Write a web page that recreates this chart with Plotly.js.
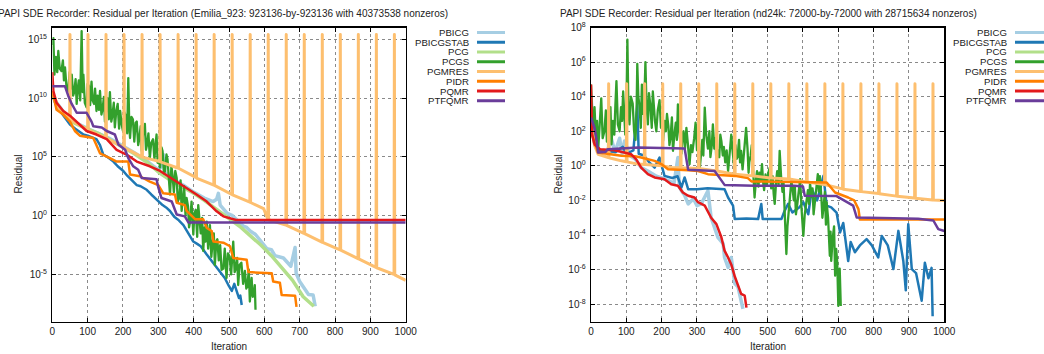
<!DOCTYPE html>
<html><head><meta charset="utf-8">
<script src="https://cdn.plot.ly/plotly-3.0.1.min.js"></script>
<style>html,body{margin:0;padding:0;background:#fff}#chart{width:1044px;height:354px}
.js-line{stroke-linejoin:round !important;}</style>
</head><body><div id="chart"></div>
<script>
// Values are stored as log10(residual); residual = 10^exp.
const methods = ['PBICG','PBICGSTAB','PCG','PCGS','PGMRES','PIDR','PQMR','PTFQMR'];
const colors  = ['#a6cee3','#1f78b4','#b2df8a','#33a02c','#fdbf6f','#ff7f00','#e31a1c','#6a3d9a'];
const widths  = [3.5,2.5,3.5,2.3,3,2.5,2.5,2.5];

const titleLeft  = 'PAPI SDE Recorder: Residual per Iteration (Emilia_923: 923136-by-923136 with 40373538 nonzeros)';
const titleRight = 'PAPI SDE Recorder: Residual per Iteration (nd24k: 72000-by-72000 with 28715634 nonzeros)';
const xTicks = [0,100,200,300,400,500,600,700,800,900,1000];
const yTicksLeftExp  = [-5,0,5,10,15];
const yTicksRightExp = [-8,-6,-4,-2,0,2,4,6,8];

// ---------- Emilia_923 ----------
const emPBICG_it  = [0,10,30,60,100,130,160,190,230,270,300,310,314,318,340,370,400,430,455,465,470,475,495,510,530,541,550,560,575,590,607,620,630,654,665,675,687,690,700,715,725,738,744];
const emPBICG_exp = [10.3,9.7,8.9,8.0,7.4,7.0,6.6,6.1,5.4,4.6,3.9,4.2,5.2,3.7,3.1,2.6,2.0,1.5,1.2,1.4,1.9,0.9,0.2,0.0,-0.6,-0.9,-1.0,-1.3,-1.6,-2.2,-2.8,-2.9,-3.4,-3.6,-4.0,-4.3,-2.7,-4.9,-5.6,-6.2,-6.7,-6.75,-7.7];
const emPBICGSTAB_it  = [0,5,12,22,35,50,65,80,88,100,115,125,135,144,155,165,173,185,193,201,212,225,239,250,260,267,280,290,300,312,322,333,345,358,371,385,399,410,420,437,450,462,475,488,500,508,515,522,528,532,536];
const emPBICGSTAB_exp = [10.2,9.8,9.3,8.9,8.4,7.75,7.4,7.1,6.9,6.8,6.6,6.5,6.0,5.2,5.0,4.8,4.6,4.2,4.0,3.8,3.4,3.0,2.6,2.5,2.3,2.2,1.8,1.5,1.2,0.9,0.7,0.4,-0.1,-0.4,-0.8,-1.5,-2.2,-2.4,-2.6,-3.3,-3.8,-4.2,-4.7,-5.3,-6.0,-6.4,-5.8,-6.4,-7.0,-6.8,-7.6];
const emPCG_it  = [0,10,30,60,100,130,160,190,230,270,305,340,370,400,430,465,495,530,560,590,620,650,680,710,740];
const emPCG_exp = [10.3,9.6,8.8,7.9,7.35,7.0,6.5,6.0,5.3,4.5,3.6,2.9,2.4,1.9,1.3,0.5,-0.1,-0.9,-1.7,-2.5,-3.4,-4.4,-5.5,-6.9,-7.7];
const emPCGS_it  = [0,3,6,10,14,17,21,26,30,33,36,40,45,49,52,55,59,62,66,69,72,75,79,83,86,88,92,97,100,104,107,111,114,118,121,125,128,132,135,139,142,146,149,153,156,160,163,167,170,174,177,181,185,189,192,196,200,204,208,212,215,218,220,224,228,232,236,239,243,246,250,253,257,262,265,268,272,276,280,285,289,292,295,298,300,305,309,312,316,319,323,326,330,333,337,340,344,348,352,355,359,363,366,370,373,377,380,384,387,390,394,399,402,406,410,413,417,420,424,427,431,434,437,441,446,450,453,457,460,464,467,471,475,479,484,488,493,497,502,506,512,516,519,523,526,530,535,540,545,549,552,556,559,562,564,567,570,573,575];
const emPCGS_exp = [14.5,15.1,12.0,13.5,12.2,14.0,12.5,12.3,13.2,11.5,12.6,11.0,10.6,12.2,10.8,12.0,10.2,10.5,11.6,9.5,10.8,11.5,9.8,15.7,10.5,12.0,9.6,9.2,11.2,11.0,9.4,11.4,9.8,9.5,10.8,8.9,10.2,9.0,10.6,8.6,9.0,10.1,8.0,9.6,10.0,8.2,10.5,8.0,8.5,9.6,7.5,8.9,9.5,7.4,8.9,7.8,7.2,8.8,8.5,7.0,11.7,7.5,6.6,8.4,8.2,6.3,7.9,8.0,6.0,6.5,7.6,5.5,7.0,7.8,5.6,6.0,7.0,4.9,6.2,6.5,4.8,6.0,6.9,4.5,5.0,4.1,5.8,5.5,3.6,3.8,5.2,4.8,2.8,1.8,4.2,3.5,2.0,3.8,3.2,1.2,1.5,3.0,0.4,2.0,2.5,0.0,1.5,0.8,-1.0,-0.5,1.2,-1.6,0.2,0.5,-1.8,0.9,-0.8,-1.5,-0.2,-3.0,-1.0,-2.2,-0.5,-2.8,-0.8,-3.5,-2.5,-1.5,-4.2,-2.2,-2.0,-3.8,-2.5,-4.6,-4.5,-2.8,-5.3,-3.2,-3.5,-5.0,-2.2,-4.8,-4.5,-3.6,-5.9,-4.2,-4.0,-5.8,-4.7,-6.2,-6.0,-4.6,-7.3,-5.8,-5.3,-6.9,-6.8,-5.9,-8.0];
const emPGMRES_it  = [0,20,49,50,51,100,101,102,151,152,153,202,203,204,253,254,255,304,305,306,355,356,357,406,407,408,457,458,459,508,509,510,559,560,561,598,610,611,612,661,662,663,712,713,714,763,764,765,814,815,816,865,866,867,916,917,918,967,968,969,1000];
const emPGMRES_exp = [10.5,9.0,8.2,15.4,8.15,7.3,15.4,7.28,6.6,15.4,6.58,5.8,15.4,5.78,5.0,15.4,4.98,4.6,15.4,4.58,4.05,15.4,4.03,3.25,15.4,3.2,2.6,15.4,2.57,1.8,15.4,1.77,1.15,15.4,1.12,0.6,-0.3,15.4,-0.35,-0.8,15.4,-0.82,-1.5,15.4,-1.53,-2.25,15.4,-2.28,-2.9,15.4,-2.93,-3.65,15.4,-3.68,-4.4,15.4,-4.43,-5.0,15.4,-5.03,-5.5];
const emPIDR_it  = [0,12,31,50,64,78,116,135,163,182,215,220,248,276,300,314,347,352,375,380,404,427,437,451,456,484,503,512,550,555,621,625,644,649,687,691];
const emPIDR_exp = [10.6,9.0,8.6,8.0,7.2,6.8,6.6,5.3,4.9,4.6,4.6,3.5,3.35,2.9,2.6,1.9,1.8,1.1,0.9,0.4,-0.3,-0.3,-1.05,-1.3,-2.2,-2.3,-2.6,-3.6,-3.75,-4.8,-4.9,-5.6,-5.7,-6.75,-6.8,-7.75];
const emPQMR_it  = [0,3,12,31,50,78,97,125,154,182,210,239,276,305,328,352,380,408,437,465,484,503,520,1000];
const emPQMR_exp = [12.2,10.6,9.6,8.9,8.5,7.75,7.2,6.9,6.5,5.6,5.2,4.6,4.2,3.8,3.35,2.9,2.4,1.8,1.2,0.37,-0.06,-0.2,-0.37,-0.37];
const emPTFQMR_it  = [0,36,45,55,69,97,111,116,140,154,177,187,206,215,229,243,253,295,300,309,338,352,375,385,1000];
const emPTFQMR_exp = [11.0,11.0,10.2,9.5,8.75,8.75,8.0,7.6,7.5,7.2,6.9,6.05,5.6,4.9,4.2,3.9,3.2,3.1,2.4,1.5,1.2,0.1,-0.06,-0.58,-0.58];

// ---------- nd24k ----------
const ndPBICG_it  = [0,10,25,45,58,68,81,88,95,110,125,133,142,161,185,200,218,235,246,250,256,265,275,290,300,312,322,331,340,350,359,374,378,388,397,407,416,425,430];
const ndPBICG_exp = [4.0,1.3,0.9,0.8,1.54,0.8,1.6,0.7,1.44,0.6,0.4,0.2,-0.1,-0.3,-0.6,-0.7,-0.87,-1.0,0.48,-1.2,-1.44,-1.7,-2.2,-1.9,-2.3,-2.2,-1.8,-1.44,-3.0,-3.6,-4.13,-4.5,-5.3,-5.87,-5.3,-6.8,-7.0,-7.8,-8.27];
const ndPBICGSTAB_it  = [0,10,20,48,70,90,100,120,131,135,150,165,180,194,208,230,245,256,265,275,300,330,360,378,388,402,407,440,473,482,486,539,548,558,570,590,601,615,625,640,658,667,680,695,705,714,728,735,747,761,780,795,813,823,840,856,870,884,891,898,908,920,936,945,955,964,967];
const ndPBICGSTAB_exp = [2.5,1.2,0.9,0.85,0.8,1.1,0.7,0.9,3.56,0.7,0.6,0.2,-0.1,0.48,-0.58,-0.7,-0.6,-1.25,-0.67,-1.35,-1.35,-1.3,-1.35,-1.35,-1.83,-2.3,-3.08,-3.05,-3.08,-2.2,-3.08,-3.08,-2.6,-2.2,-2.7,-2.4,-2.1,-2.8,-1.35,-2.0,-0.58,-2.3,-2.4,-2.7,-3.85,-3.3,-5.5,-4.4,-5.0,-4.6,-4.24,-4.6,-5.3,-4.05,-4.6,-5.97,-3.76,-5.5,-7.2,-3.37,-5.97,-6.2,-7.8,-5.6,-6.5,-5.9,-8.7];
const ndPCG_it  = [];
const ndPCG_exp = [];
const ndPCGS_it  = [0,3,6,10,14,17,20,24,29,33,38,42,45,48,52,55,58,62,66,69,72,76,81,85,88,91,94,97,100,103,106,109,113,118,122,126,129,131,134,137,141,144,147,150,154,157,161,164,168,172,175,178,181,185,189,194,198,201,204,208,212,215,219,222,225,229,232,236,240,243,246,250,253,256,259,262,266,270,274,279,283,287,292,296,300,304,308,312,315,318,322,326,331,335,338,342,345,349,352,355,359,363,366,369,373,376,380,384,388,392,397,401,405,409,412,415,419,422,425,429,433,436,439,443,446,448,452,455,459,463,467,470,474,477,480,484,487,490,494,498,502,506,510,514,517,520,524,527,531,534,538,542,545,549,553,556,560,564,567,570,574,577,580,584,588,592,596,601,605,610,614,617,620,624,627,630,634,638,642,645,648,652,655,659,662,665,667,671,674,676,678,680,684,688,691,694,697,700,702,704,707];
const ndPCGS_exp = [4.7,2.5,1.8,3.4,1.5,2.6,0.87,2.2,3.9,1.6,2.0,3.2,1.4,3.0,2.2,3.4,1.25,2.6,1.8,3.5,4.9,2.4,2.0,3.4,2.6,4.3,2.8,1.8,3.0,7.3,3.2,2.4,4.0,3.6,2.0,1.5,3.2,5.9,4.0,3.5,2.2,4.7,3.0,3.0,6.0,3.6,2.4,4.2,3.5,2.2,4.3,3.0,2.6,2.0,3.2,3.8,2.2,2.8,1.44,2.6,2.0,3.0,2.3,1.2,1.6,2.8,0.87,1.8,2.5,1.5,3.56,2.0,1.0,0.7,1.8,2.0,1.0,2.2,1.3,0.1,1.2,0.8,1.6,2.5,0.9,1.4,-0.1,0.8,1.5,0.6,3.37,1.8,1.0,2.0,0.5,1.2,2.4,1.0,1.6,0.2,0.9,0.5,1.8,1.44,0.6,1.1,0.2,0.9,-0.3,0.6,1.8,0.8,0.0,1.2,0.4,0.5,1.5,0.2,0.87,-0.2,0.6,1.6,2.2,1.0,-0.4,0.2,0.6,1.2,-0.2,-1.83,-0.8,-0.3,-1.2,-0.4,-0.9,0.1,-0.9,-1.4,-0.5,-1.1,-0.4,-0.1,-1.3,-0.6,-1.6,-2.2,-0.9,-0.3,-1.1,0.87,-0.6,-1.5,-1.0,-3.66,-5.1,-3.5,-2.5,-1.8,-0.9,-1.2,-2.0,-1.2,-2.8,-2.2,-1.5,-0.77,-2.5,-4.05,-2.8,-2.0,-1.4,-2.2,-1.0,-1.8,-1.3,-2.8,-2.0,-1.2,-0.48,-1.5,-0.6,-1.8,-3.0,-2.2,-1.5,-3.4,-2.1,-3.0,-4.4,-5.2,-3.8,-5.5,-4.2,-3.5,-6.35,-4.8,-5.6,-8.1,-6.8,-5.95,-8.1];
const ndPGMRES_it  = [0,10,20,49,50,51,86,100,101,102,133,151,152,153,202,203,204,227,253,254,255,304,305,306,355,356,357,406,407,408,457,458,459,508,509,510,559,560,561,610,611,612,661,662,663,712,713,714,763,764,765,814,815,816,865,866,867,916,917,918,967,968,969,1000];
const ndPGMRES_exp = [2.4,1.2,0.67,0.48,4.75,0.47,0.29,0.24,4.75,0.23,0.1,0.08,4.75,0.08,0.0,4.75,0.0,-0.1,-0.11,4.75,-0.11,-0.15,4.75,-0.15,-0.3,4.75,-0.3,-0.48,4.75,-0.49,-0.58,4.75,-0.58,-0.7,4.75,-0.7,-0.76,4.75,-0.76,-0.93,4.75,-0.94,-1.08,4.75,-1.09,-1.33,4.75,-1.35,-1.48,4.75,-1.49,-1.6,4.75,-1.61,-1.75,4.75,-1.76,-1.86,4.75,-1.87,-1.97,4.75,-1.98,-2.0];
const ndPIDR_it  = [0,10,20,86,124,142,180,199,218,275,303,331,369,407,444,454,667,691,728,745,757,761,1000];
const ndPIDR_exp = [2.0,1.44,0.77,0.58,0.55,0.48,0.29,0.1,-0.19,-0.25,-0.3,-0.48,-0.52,-0.58,-0.71,-0.9,-0.96,-1.54,-1.83,-2.0,-2.5,-3.1,-3.1];
const ndPQMR_it  = [0,3,10,25,67,95,114,128,142,161,180,208,227,246,260,275,293,303,322,340,355,369,378,388,397,407,416,425,435,440];
const ndPQMR_exp = [4.7,1.8,1.25,0.96,0.9,0.77,0.67,0.38,-0.1,-0.48,-0.67,-0.77,-1.06,-1.15,-1.54,-1.73,-1.83,-2.1,-2.3,-3.0,-3.37,-4.13,-4.9,-5.3,-5.7,-6.4,-6.9,-7.4,-7.5,-8.2];
const ndPTFQMR_it  = [0,10,15,20,40,48,133,180,265,275,350,378,463,576,600,605,695,742,752,926,969,983,1000];
const ndPTFQMR_exp = [2.8,2.2,1.6,0.77,0.8,0.96,1.06,1.04,1.0,-0.23,-0.3,-1.1,-1.15,-1.15,-1.2,-1.73,-1.75,-2.3,-2.98,-3.06,-3.16,-3.66,-3.77];

const leftSeries  = [[emPBICG_it,emPBICG_exp],[emPBICGSTAB_it,emPBICGSTAB_exp],[emPCG_it,emPCG_exp],[emPCGS_it,emPCGS_exp],[emPGMRES_it,emPGMRES_exp],[emPIDR_it,emPIDR_exp],[emPQMR_it,emPQMR_exp],[emPTFQMR_it,emPTFQMR_exp]];
const rightSeries = [[ndPBICG_it,ndPBICG_exp],[ndPBICGSTAB_it,ndPBICGSTAB_exp],[ndPCG_it,ndPCG_exp],[ndPCGS_it,ndPCGS_exp],[ndPGMRES_it,ndPGMRES_exp],[ndPIDR_it,ndPIDR_exp],[ndPQMR_it,ndPQMR_exp],[ndPTFQMR_it,ndPTFQMR_exp]];

const traces = [];
function addSeries(list, xa, ya){
  list.forEach((s,i)=>{
    traces.push({type:'scatter', mode:'lines', name:methods[i], x:s[0], y:s[1].map(e=>Math.pow(10,e)),
      xaxis:xa, yaxis:ya, showlegend:false, hoverinfo:'skip',
      line:{color:colors[i], width:widths[i], shape:'linear'}});
  });
}
addSeries(leftSeries,'x','y');
addSeries(rightSeries,'x2','y2');

const FONT = 'Liberation Sans, Arial, Helvetica, sans-serif';
const supLabel = e => '10<sup>'+String(e)+'</sup>';
function xAxis(domain, anchor){
  return {domain:domain, anchor:anchor, range:[0,1000], tickvals:xTicks, ticktext:xTicks.map(String),
    ticks:'inside', ticklen:4, tickcolor:'#000', mirror:'allticks', showline:true, linecolor:'#000', linewidth:1.3,
    showgrid:true, gridcolor:'#8a8a8a', griddash:'dot', gridwidth:1, zeroline:false,
    tickfont:{family:FONT, size:10, color:'#222'}, fixedrange:true};
}
function yAxis(domain, anchor, range, vals){
  return {domain:domain, anchor:anchor, type:'log', range:range, tickvals:vals.map(e=>Math.pow(10,e)), ticktext:vals.map(supLabel),
    ticks:'inside', ticklen:4, tickcolor:'#000', mirror:'allticks', showline:true, linecolor:'#000', linewidth:1.3,
    showgrid:true, gridcolor:'#8a8a8a', griddash:'dot', gridwidth:1, zeroline:false, ticklabelstandoff:2,
    tickfont:{family:FONT, size:10, color:'#222'}, fixedrange:true};
}

const W = 1044, H = 354;
const px = v => v/W, py = v => 1 - v/H;
const annotations = [
  {text:titleLeft, x:px(450), y:py(14), xref:'paper', yref:'paper', xanchor:'right', yanchor:'middle', showarrow:false, font:{family:FONT,size:10,color:'#222'}},
  {text:titleRight, x:px(768.5), y:py(14), xref:'paper', yref:'paper', xanchor:'center', yanchor:'middle', showarrow:false, font:{family:FONT,size:10,color:'#222'}},
  {text:'Iteration', x:px(229), y:py(346), xref:'paper', yref:'paper', xanchor:'center', yanchor:'middle', showarrow:false, font:{family:FONT,size:10,color:'#222'}},
  {text:'Iteration', x:px(767.7), y:py(346), xref:'paper', yref:'paper', xanchor:'center', yanchor:'middle', showarrow:false, font:{family:FONT,size:10,color:'#222'}},
  {text:'Residual', x:px(18), y:py(174.5), xref:'paper', yref:'paper', xanchor:'center', yanchor:'middle', textangle:-90, showarrow:false, font:{family:FONT,size:10,color:'#222'}},
  {text:'Residual', x:px(558), y:py(174.5), xref:'paper', yref:'paper', xanchor:'center', yanchor:'middle', textangle:-90, showarrow:false, font:{family:FONT,size:10,color:'#222'}}
];
const shapes = [];
[[470.7,477,505],[1009,1015,1050]].forEach(pos=>{
  methods.forEach((m,i)=>{
    const yy = 32.5 + 9.75*i;
    annotations.push({text:m, x:px(pos[0]), y:py(yy), xref:'paper', yref:'paper', xanchor:'right', yanchor:'middle', showarrow:false, font:{family:FONT,size:9.6,color:'#222'}});
    shapes.push({type:'line', xref:'paper', yref:'paper', x0:px(pos[1]), x1:px(pos[2]), y0:py(yy), y1:py(yy), line:{color:colors[i], width:3}});
  });
});

const layout = {
  width:W, height:H, margin:{l:0,r:0,t:0,b:0}, paper_bgcolor:'#fff', plot_bgcolor:'#fff', showlegend:false,
  xaxis: xAxis([px(52.3), px(405.7)], 'y'),
  yaxis: yAxis([py(321.5), py(27.5)], 'x', [-9,16], yTicksLeftExp),
  xaxis2: xAxis([px(591), px(944.3)], 'y2'),
  yaxis2: yAxis([py(321.5), py(27.5)], 'x2', [-9,8], yTicksRightExp),
  annotations:annotations, shapes:shapes
};
Plotly.newPlot('chart', traces, layout, {staticPlot:true, displayModeBar:false});
</script></body></html>
